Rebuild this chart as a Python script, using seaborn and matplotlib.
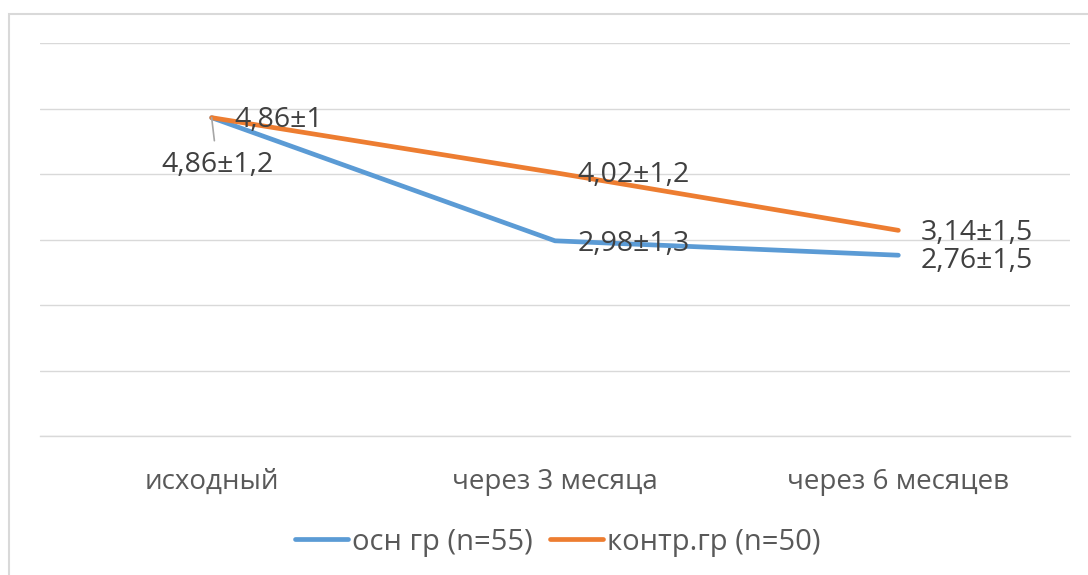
import matplotlib
matplotlib.use("Agg")
import matplotlib.pyplot as plt
import seaborn as sns
import pandas as pd
from matplotlib.patches import Rectangle

categories = ["исходный", "через 3 месяца", "через 6 месяцев"]
series_names = ["осн гр (n=55)", "контр.гр (n=50)"]
osn_values = [4.86, 2.98, 2.76]
kontr_values = [4.86, 4.02, 3.14]
osn_labels = ["4,86±1,2", "2,98±1,3", "2,76±1,5"]
kontr_labels = ["4,86±1", "4,02±1,2", "3,14±1,5"]
colors = ["#5B9BD5", "#ED7D31"]

df = pd.DataFrame({
    "cat": categories * 2,
    "val": osn_values + kontr_values,
    "series": [series_names[0]] * 3 + [series_names[1]] * 3,
})

sns.set_theme(style="white")
plt.rcParams["font.family"] = ["Open Sans", "DejaVu Sans"]

fig = plt.figure(figsize=(10.88, 5.75), dpi=100)
ax = fig.add_axes([40/1088, 1-436/575, (1070-40)/1088, (436-43)/575])

sns.lineplot(data=df, x="cat", y="val", hue="series", palette=colors,
             linewidth=3.4, ax=ax, sort=False, legend=True)
for ln in ax.lines:
    ln.set_solid_capstyle("round")
    ln.set_solid_joinstyle("round")

ax.set_xlim(-0.5, 2.5)
ax.set_ylim(0, 6)
ax.set_yticks(range(0, 7))
ax.yaxis.grid(True, color="#d9d9d9", linewidth=1.0)
ax.set_axisbelow(True)
for s in ["top", "right", "left"]:
    ax.spines[s].set_visible(False)
ax.spines["bottom"].set_color("#d9d9d9")
ax.spines["bottom"].set_linewidth(1.0)
ax.tick_params(axis="y", left=False, labelleft=False)
ax.tick_params(axis="x", bottom=False, labelsize=20, labelcolor="#595959", pad=17)
ax.set_xlabel("")
ax.set_ylabel("")

FS = 20.5
lab_kw = dict(fontsize=FS, color="#404040", va="center", ha="left")
# control group labels
k_off = [(16, -2), (16, -2), (16, -2)]
for i, (v, t) in enumerate(zip(kontr_values, kontr_labels)):
    ax.annotate(t, (i, v), xytext=k_off[i], textcoords="offset points", **lab_kw)
# main group labels
o_off = [None, (16, -2), (16, -4)]
for i, (v, t) in enumerate(zip(osn_values, osn_labels)):
    if i == 0:
        ax.annotate(t, (i, v), xytext=(4, -34), textcoords="offset points",
                    fontsize=FS, color="#404040", va="center", ha="center",
                    arrowprops=dict(arrowstyle="-", color="#a6a6a6", lw=1.2,
                                    shrinkA=5, shrinkB=0),
                    )
    else:
        ax.annotate(t, (i, v), xytext=o_off[i], textcoords="offset points", **lab_kw)

leg = ax.legend(loc="center", bbox_to_anchor=(0.503, -0.27), ncol=2, frameon=False,
                fontsize=21, handlelength=1.8, handletextpad=0.15, columnspacing=0.6)
for t in leg.get_texts():
    t.set_color("#595959")
for h in leg.get_lines():
    h.set_linewidth(3.4)
    h.set_solid_capstyle("round")

fig.patches.append(Rectangle((9/1088, -0.1), 1.2, 1-14/575+0.1, transform=fig.transFigure,
                             fill=False, edgecolor="#d9d9d9", linewidth=1.5))

fig.savefig("out.png", dpi=100)
